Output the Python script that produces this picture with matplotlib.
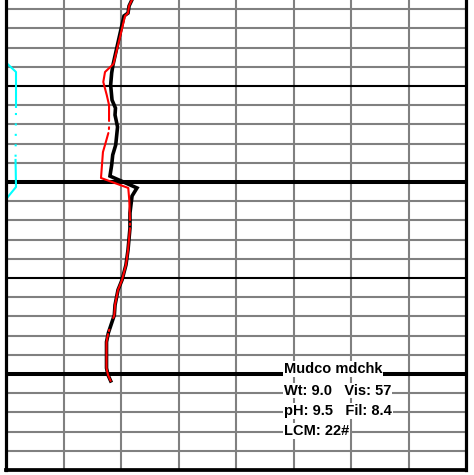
import numpy as np
import matplotlib
matplotlib.use("Agg")
import matplotlib.pyplot as plt

nan = np.nan

# Track scale: 0-40 units across, 5 units per division; depth in feet
track_min, track_max, track_step = 0, 40, 5
depth_top, depth_bottom = 805.2, 1050
minor_depth_step = 10

# Drill-rate curve (black)
black_depth = [805.0, 808.3, 812.0, 813.5, 839.1, 843.2, 849.5, 857.3, 861.5,
               865.1, 871.3, 880.7, 885.9, 891.1, 896.9, 903.1, 907.3, 916.1,
               924.0, 935.4, 943.2, 951.0, 956.2, 964.1, 969.3, 973.4, 978.6,
               983.3, 996.9, 1000.5, 1003.6]
black_value = [10.96, 10.70, 10.61, 10.26, 9.30, 9.19, 9.10, 9.22, 9.52,
               9.48, 9.70, 9.54, 9.28, 9.19, 9.04, 11.39, 10.96, 10.78,
               10.78, 10.61, 10.43, 10.09, 9.74, 9.48, 9.42, 9.19, 8.90,
               8.74, 8.74, 8.87, 9.10]

# Second curve (red), broken where readings are missing
red_depth = [805.0, 808.3, 812.0, 813.5, 838.5, 842.7, 847.9, 854.7, 859.9,
             868.2, nan, 871.5, 872.4, nan, 874.5, 880.7, 884.4, 897.9,
             903.1, 909.4, 919.8, nan, 921.6, 922.4, nan, 924.0, 935.4,
             943.2, 951.0, 956.2, 964.1, 969.3, 970.8, nan, 976.9, 977.6,
             nan, 979.2, 983.3, 996.9, 1000.5, 1003.6]
red_value = [10.96, 10.70, 10.61, 10.35, 9.35, 8.61, 8.46, 8.76, 8.96,
             8.96, nan, 8.96, 8.95, nan, 8.90, 8.61, 8.43, 8.26,
             10.63, 10.72, 10.78, nan, 10.78, 10.78, nan, 10.78, 10.61,
             10.43, 10.09, 9.74, 9.48, 9.42, 9.33, nan, 8.98, 8.95,
             nan, 8.87, 8.74, 8.74, 8.87, 9.10]

# Gas curve (cyan); the middle stretch is drawn dotted
cyan_depth = [838.0, 842.7, 860.9, 888.5, 902.6, 908.3]
cyan_value = [0.04, 0.87, 0.87, 0.83, 0.87, 0.09]
cyan_dotted_span = (2, 3)

# Mud check annotation
mud_company = "Mudco mdchk"
mud_weight = "9.0"
mud_vis = "57"
mud_ph = "9.5"
mud_fil = "8.4"
mud_lcm = "22#"

fig = plt.figure(figsize=(4.74, 4.75), dpi=100)
ax = fig.add_axes([6 / 474, 5 / 475, 460 / 474, 470 / 475])
ax.set_xlim(track_min, track_max)
ax.set_ylim(depth_bottom, depth_top)
ax.set_xticks([])
ax.set_yticks([])

for side in ("left", "right"):
    ax.spines[side].set_linewidth(2.3)
    ax.spines[side].set_zorder(8)
ax.spines["bottom"].set_linewidth(2.7)
ax.spines["bottom"].set_zorder(8)
ax.spines["top"].set_visible(False)

grid_gray = "#808080"
for x in np.arange(track_min + track_step, track_max, track_step):
    ax.axvline(x, color=grid_gray, lw=1.5, zorder=1)

first = int(np.ceil(depth_top / minor_depth_step)) * minor_depth_step
for d in np.arange(first, depth_bottom, minor_depth_step):
    if d % 100 == 0:
        ax.axhline(d, color="black", lw=2.9, zorder=2)
    elif d % 50 == 0:
        ax.axhline(d, color="black", lw=1.5, zorder=2)
    else:
        ax.axhline(d, color=grid_gray, lw=1.5, zorder=1)

ax.plot(black_value, black_depth, color="black", lw=2.6, zorder=4,
        solid_joinstyle="miter")
ax.plot(red_value, red_depth, color="#ff0000", lw=1.5, zorder=5,
        solid_capstyle="round")

a, b = cyan_dotted_span
ax.plot(cyan_value[:a + 1], cyan_depth[:a + 1], color="#00ffff", lw=1.5, zorder=3)
ax.plot(cyan_value[a:b + 1], cyan_depth[a:b + 1], color="#00ffff", lw=1.5,
        zorder=3, linestyle=(2.1, (1, 4)))
ax.plot(cyan_value[b:], cyan_depth[b:], color="#00ffff", lw=1.5, zorder=3)

lines = [
    mud_company,
    f"Wt: {mud_weight}   Vis: {mud_vis}",
    f"pH: {mud_ph}   Fil: {mud_fil}",
    f"LCM: {mud_lcm}",
]
baselines = [999.5, 1010.7, 1021.3, 1031.8]
for text, yb in zip(lines, baselines):
    ax.text(24.17, yb, text, family=["Liberation Sans", "DejaVu Sans"],
            fontweight="bold", fontsize=10.5, va="baseline", ha="left",
            zorder=9, bbox=dict(fc="white", ec="none", pad=0.6))

fig.savefig("out.png", dpi=100)
